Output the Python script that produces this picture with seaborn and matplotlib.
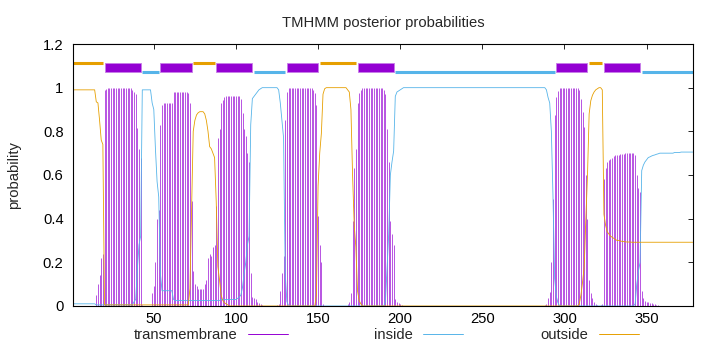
import numpy as np
import pandas as pd
import matplotlib
matplotlib.use("Agg")
import matplotlib.pyplot as plt
import seaborn as sns
from matplotlib.lines import Line2D

# posterior probabilities per residue
transmembrane = (
    [0.0] * 14
    + [0.05, 0.1, 0.14, 0.22, 0.24, 0.99, 0.995]
    + [1.0] * 15
    + [0.99, 0.98, 0.97, 0.815, 0.72, 0.68, 0.005]
    + [0.0] * 5
    + [0.06, 0.09, 0.2, 0.4, 0.44, 0.83, 0.92]
    + [0.93] * 6
    + [0.98] * 9
    + [0.975, 0.93, 0.48, 0.16, 0.1, 0.09, 0.08, 0.077, 0.08, 0.077, 0.1, 0.12,
       0.22, 0.24, 0.23, 0.27, 0.28, 0.46, 0.77, 0.81, 0.93, 0.945, 0.955]
    + [0.96] * 9
    + [0.95, 0.885, 0.81, 0.78, 0.70, 0.66, 0.15, 0.04, 0.035, 0.03, 0.02, 0.015,
       0.01, 0.005, 0.0, 0.0]
    + [0.0] * 6
    + [0.005, 0.01, 0.07, 0.15, 0.23, 0.85, 0.98, 0.997]
    + [1.0] * 14
    + [0.99, 0.975, 0.92, 0.41, 0.28, 0.2, 0.01]
    + [0.0] * 14
    + [0.01, 0.02, 0.06, 0.39, 0.63, 0.72, 0.93, 0.975, 0.99]
    + [1.0] * 13
    + [0.99]
    + [0.97, 0.81, 0.66, 0.39, 0.33, 0.28, 0.03, 0.02, 0.015, 0.01, 0.005]
    + [0.0] * 86
    + [0.005, 0.01, 0.035, 0.065, 0.2, 0.49, 0.875, 0.955, 0.985]
    + [1.0] * 12
    + [0.99, 0.95, 0.89, 0.82, 0.6, 0.4, 0.12, 0.06, 0.035, 0.02, 0.01, 0.005, 0.0]
    + [0.005, 0.01]
    + [0.58, 0.63, 0.66, 0.67, 0.675, 0.68, 0.685, 0.69]
    + [0.69, 0.69, 0.695, 0.695, 0.695, 0.70, 0.70, 0.70, 0.70, 0.70, 0.70]
    + [0.69, 0.60, 0.54, 0.52, 0.07, 0.035, 0.025, 0.02, 0.02, 0.015, 0.012, 0.01,
       0.008, 0.005, 0.003, 0.0]
    + [0.0] * 20
)

inside = (
    [0.01] * 14
    + [0.005] * 23
    + [0.02, 0.03, 0.17, 0.28, 0.32, 0.99]
    + [0.99] * 5
    + [0.93, 0.90, 0.72, 0.57, 0.5, 0.15, 0.07, 0.07, 0.07, 0.07, 0.07, 0.07, 0.07, 0.03]
    + [0.025] * 28
    + [0.03] * 10
    + [0.035, 0.04, 0.05, 0.085, 0.15, 0.2, 0.28, 0.32, 0.83, 0.95, 0.96, 0.97,
       0.98, 0.99, 0.995]
    + [1.0] * 10
    + [0.99, 0.93, 0.85, 0.77, 0.15, 0.02, 0.003]
    + [0.0] * 58
    + [0.02, 0.18, 0.33, 0.6, 0.66, 0.71, 0.96, 0.98, 0.985, 0.99, 0.995]
    + [1.0] * 87
    + [0.99, 0.955, 0.93, 0.8, 0.5, 0.125, 0.045, 0.015, 0.0]
    + [0.0] * 45
    + [0.01, 0.1, 0.16, 0.2, 0.62]
    + [0.645, 0.66, 0.67, 0.68, 0.683, 0.687, 0.69, 0.692, 0.695, 0.697, 0.70]
    + [0.70] * 8 + [0.703] * 4 + [0.705] * 8
)

outside = (
    [0.99] * 14
    + [0.935, 0.93, 0.85, 0.76, 0.74, 0.005]
    + [0.005] * 50
    + [0.005, 0.08, 0.45, 0.8, 0.85, 0.875, 0.885, 0.89, 0.89, 0.89, 0.88, 0.85,
       0.80, 0.73, 0.72, 0.70, 0.68, 0.48, 0.18, 0.12, 0.05, 0.025, 0.015, 0.01,
       0.005, 0.0]
    + [0.0] * 52
    + [0.05, 0.55, 0.7, 0.79, 0.97, 0.995]
    + [1.0] * 13
    + [0.99, 0.98, 0.9, 0.6, 0.37, 0.27, 0.07, 0.025, 0.01]
    + [0.0] * 132
    + [0.01, 0.05, 0.11, 0.18, 0.40, 0.60, 0.88, 0.94, 0.965, 0.98, 0.99, 0.995,
       1.0, 1.0, 0.99]
    + [0.42, 0.37, 0.34, 0.33, 0.32, 0.315, 0.31, 0.305, 0.30, 0.30, 0.298, 0.296,
       0.295, 0.294, 0.293, 0.293, 0.293, 0.292, 0.292, 0.292, 0.292, 0.292, 0.292]
    + [0.292] * 32
)

# predicted topology (top bar)
seg_kind = ["outside", "TMhelix", "inside", "TMhelix", "outside", "TMhelix", "inside",
            "TMhelix", "outside", "TMhelix", "inside", "TMhelix", "outside", "TMhelix",
            "inside"]
seg_start = [1, 20, 43, 54, 74, 88, 111, 131, 151, 174, 197, 295, 315, 324, 347]
seg_end = [19, 42, 53, 73, 87, 110, 130, 150, 173, 196, 294, 314, 323, 346, 378]

assert len(transmembrane) == len(inside) == len(outside) == 378

df = pd.DataFrame({
    "residue": np.arange(1, len(transmembrane) + 1),
    "transmembrane": transmembrane,
    "inside": inside,
    "outside": outside,
})

c_tm = "#9400D3"
c_in = "#56B4E9"
c_out = "#E69F00"
fs = 10.6

sns.set_style("white")
plt.rcParams["font.family"] = ["Liberation Sans", "DejaVu Sans"]
plt.rcParams["font.size"] = fs

fig = plt.figure(figsize=(7.2, 3.52), dpi=100)
ax = fig.add_axes([0.1018, 0.1307, 0.8602, 0.7443])

ax.vlines(df["residue"], 0, df["transmembrane"], color=c_tm, lw=0.55, alpha=0.85)
sns.lineplot(data=df, x="residue", y="inside", color=c_in, lw=0.6, ax=ax)
sns.lineplot(data=df, x="residue", y="outside", color=c_out, lw=0.6, ax=ax)

for kind, s, e in zip(seg_kind, seg_start, seg_end):
    if kind == "TMhelix":
        ax.fill_between([s, e], 1.07, 1.113, color=c_tm, lw=0.6, edgecolor="#c77de8")
    elif kind == "inside":
        ax.hlines(1.072, s, e, color=c_in, lw=2.2, capstyle="butt")
    else:
        ax.hlines(1.111, s, e, color=c_out, lw=2.2, capstyle="butt")

ax.set_xlim(1, 378)
ax.set_ylim(0, 1.2)
ax.set_xticks([50, 100, 150, 200, 250, 300, 350])
ax.set_yticks([0, 0.2, 0.4, 0.6, 0.8, 1.0, 1.2])
ax.set_yticklabels(["0", "0.2", "0.4", "0.6", "0.8", "1", "1.2"])
ax.tick_params(direction="in", top=True, right=True, length=3.5, width=0.6,
               labelsize=fs, colors="black")
ax.tick_params(axis="y", pad=7)
ax.tick_params(axis="x", pad=4)
for sp in ax.spines.values():
    sp.set_color("black")
    sp.set_linewidth(0.8)

ax.set_xlabel("")
ax.set_ylabel("probability", fontsize=fs)
ax.yaxis.set_label_coords(-0.084, 0.5)
ax.set_title("TMHMM posterior probabilities", fontsize=fs, pad=12)

# gnuplot-style key: text then sample, one entry per column
for label, col, xr in [("transmembrane", c_tm, 0.40),
                       ("inside", c_in, 0.643),
                       ("outside", c_out, 0.887)]:
    h = Line2D([], [], color=col, lw=0.7)
    fig.legend([h], [label], loc="center right", bbox_to_anchor=(xr, 0.047),
               frameon=False, markerfirst=False, handlelength=2.7,
               handletextpad=0.7, borderpad=0, borderaxespad=0, fontsize=fs)

fig.savefig("out.png", dpi=100)
